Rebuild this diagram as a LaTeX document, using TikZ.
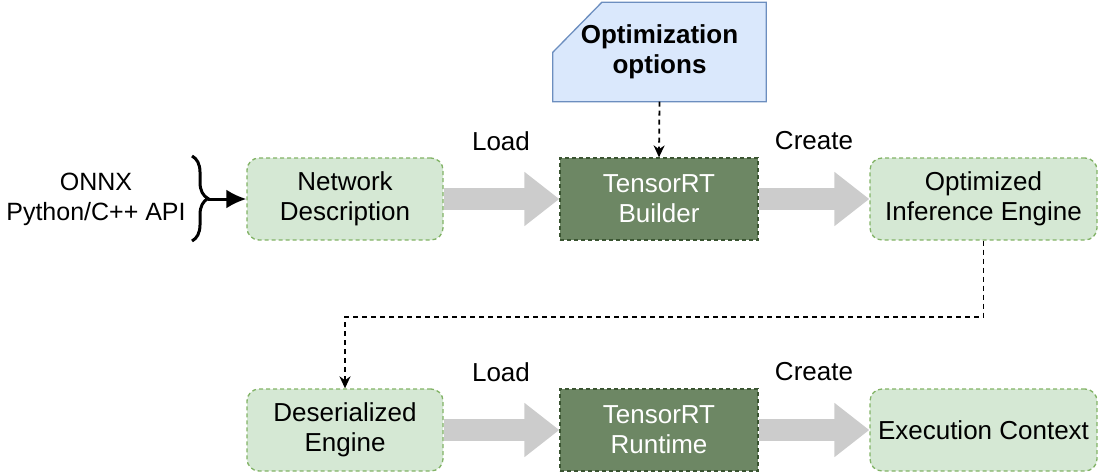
\documentclass[tikz,border=0pt]{standalone}
\usepackage{fontspec}
\setmainfont{Liberation Sans}
\usepackage{tikz}
\usetikzlibrary{positioning,arrows.meta,decorations.pathreplacing,backgrounds}
\usepackage{xcolor}
\definecolor{lgreen}{HTML}{D5E8D4}
\definecolor{lgreenline}{HTML}{82B366}
\definecolor{dgreen}{HTML}{6D8764}
\definecolor{dgreenline}{HTML}{3A5431}
\definecolor{lblue}{HTML}{DAE8FC}
\definecolor{lblueline}{HTML}{6C8EBF}
\definecolor{arrowgray}{HTML}{CCCCCC}
\tikzset{
  lightbox/.style={draw=lgreenline, fill=lgreen, line width=1.3pt, dash pattern=on 4pt off 3pt,
    rounded corners=12pt, minimum width=196pt, minimum height=82pt, align=center},
  darkbox/.style={draw=dgreenline, fill=dgreen, line width=1.3pt, dash pattern=on 4pt off 3pt,
    minimum width=198pt, minimum height=82pt, align=center, text=white},
  bigarrow/.style={draw=arrowgray, line width=22pt, -{Triangle[length=35pt,width=52pt]}},
  dasharrow/.style={line width=1.8pt, dash pattern=on 5pt off 4pt, -{Stealth[length=12pt,width=11pt]}},
}
\begin{document}
\begin{tikzpicture}[x=1pt, y=-1pt, every node/.style={font=\fontsize{26}{30}\selectfont}]
  \useasboundingbox (0,0) rectangle (1106,474);
  % top row
  \node[lightbox](nd) at (345,199){Network\\Description};
  \node[darkbox](bld) at (659,199){TensorRT\\Builder};
  \node[lightbox, minimum width=227pt](oie) at (983.5,199){Optimized\\Inference Engine};
  \node[align=center, minimum width=213pt, minimum height=99pt, font=\bfseries\fontsize{26}{30}\selectfont](opt) at (659.5,52){Optimization\\options};
  \begin{scope}[on background layer]
    \draw[draw=lblueline, fill=lblue, line width=1.3pt] ([yshift=-50pt]opt.north west) -- ([xshift=49pt]opt.north west)
      -- (opt.north east) -- (opt.south east) -- (opt.south west) -- cycle;
  \end{scope}
  % bottom row
  \node[lightbox](des) at (345,430){Deserialized\\Engine};
  \node[darkbox](rt) at (659,430){TensorRT\\Runtime};
  \node[lightbox, minimum width=227pt](ctx) at (983.5,430){Execution Context};
  % inputs
  \node[align=center, font=\fontsize{25}{30}\selectfont](src) at (96,199){ONNX\\Python/C++ API};
  \draw[decorate, decoration={brace, amplitude=16pt}, line width=3pt] (192,156) -- (192,241);
  \coordinate (brtip) at (208,199);
  \draw[line width=3pt, -{Latex[length=20pt,width=19pt]}] (brtip) -- (nd.west);
  % flow
  \draw[bigarrow] (nd.east) -- (bld.west);
  \draw[bigarrow] (bld.east) -- (oie.west);
  \draw[bigarrow] (des.east) -- (rt.west);
  \draw[bigarrow] (rt.east) -- (ctx.west);
  \node(ld1) at (501,141){Load};
  \node(cr1) at (814,141){Create};
  \node(ld2) at (501,372){Load};
  \node(cr2) at (814,372){Create};
  \draw[dasharrow] (opt.south) -- (bld.north);
  \draw[dasharrow] (oie.south) -- ++(0,76) -| (des.north);
\end{tikzpicture}
\end{document}
